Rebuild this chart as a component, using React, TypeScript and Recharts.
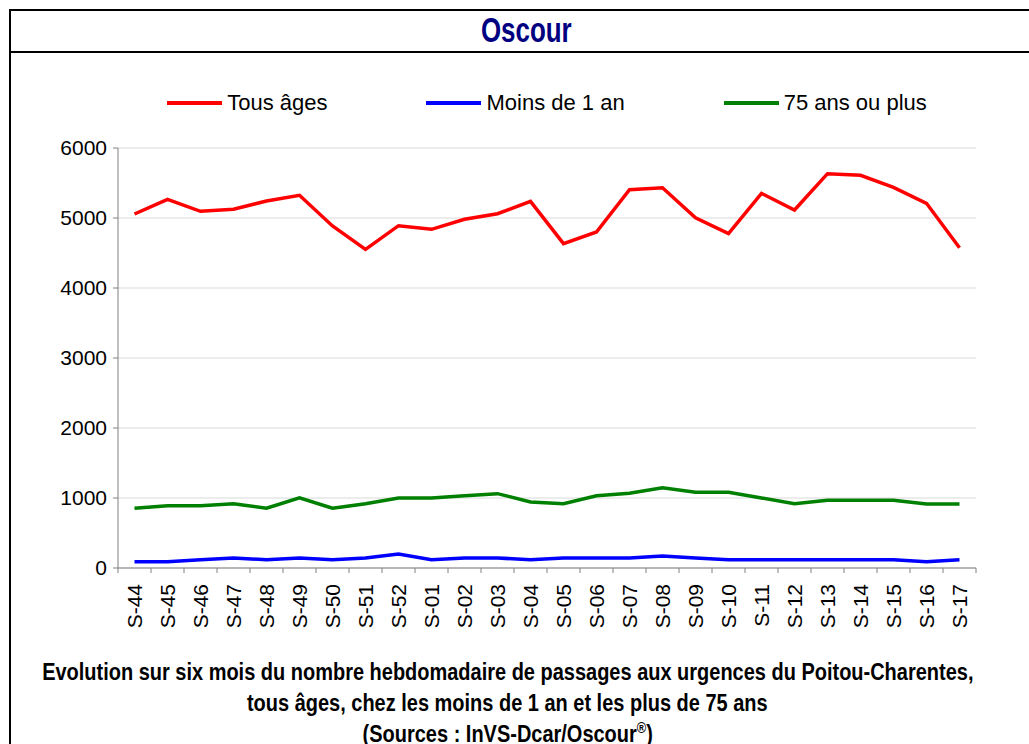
// Oscour : passages hebdomadaires aux urgences, Poitou-Charentes.
import { CartesianGrid, Line, LineChart, XAxis, YAxis } from "recharts";

const weeks = [
  "S-44", "S-45", "S-46", "S-47", "S-48", "S-49", "S-50", "S-51", "S-52",
  "S-01", "S-02", "S-03", "S-04", "S-05", "S-06", "S-07", "S-08", "S-09",
  "S-10", "S-11", "S-12", "S-13", "S-14", "S-15", "S-16", "S-17",
];

const tousAges = [
  5057, 5267, 5096, 5124, 5243, 5324, 4886, 4552, 4890, 4838, 4981, 5061, 5238,
  4633, 4800, 5404, 5433, 5004, 4776, 5352, 5114, 5633, 5610, 5438, 5210, 4576,
];

const moinsUnAn = [
  90, 90, 119, 143, 119, 143, 119, 143, 200, 119, 143, 143, 119,
  143, 143, 143, 171, 143, 119, 119, 119, 119, 119, 119, 90, 119,
];

const plus75 = [
  853, 890, 890, 919, 853, 1004, 853, 919, 1000, 1000, 1033, 1062, 943,
  919, 1033, 1067, 1147, 1081, 1081, 1000, 919, 967, 967, 967, 914, 914,
];

const yTicks = [0, 1000, 2000, 3000, 4000, 5000, 6000];

const series = [
  { key: "tous", name: "Tous âges", color: "#ff0000" },
  { key: "moins1", name: "Moins de 1 an", color: "#0000ff" },
  { key: "plus75", name: "75 ans ou plus", color: "#008000" },
];

const data = weeks.map((week, i) => ({
  week,
  tous: tousAges[i],
  moins1: moinsUnAn[i],
  plus75: plus75[i],
}));

const CHART_W = 1029;
const CHART_H = 660;
const MARGIN = { top: 148, right: 53, bottom: 32, left: 58 };
const Y_AXIS_W = 60;
const PLOT_W = CHART_W - MARGIN.left - MARGIN.right - Y_AXIS_W;
const halfBand = PLOT_W / weeks.length / 2;

const axisColor = "#808080";
const sans = "'Liberation Sans', Arial, sans-serif";

function WeekTick(props: any) {
  const { x, y, payload, index } = props;
  return (
    <g>
      <line x1={x - halfBand} x2={x - halfBand} y1={y} y2={y + 5} stroke={axisColor} />
      {index === weeks.length - 1 && (
        <line x1={x + halfBand} x2={x + halfBand} y1={y} y2={y + 5} stroke={axisColor} />
      )}
      <text
        x={x}
        y={y + 16}
        transform={`rotate(-90 ${x} ${y + 16})`}
        textAnchor="end"
        dy="0.35em"
        fontSize={21}
        fontFamily={sans}
        fill="#000"
      >
        {payload.value}
      </text>
    </g>
  );
}

// texte « condensé » : Liberation Sans Bold resserré horizontalement
function Condensed({ children, scale }: { children: any; scale: number }) {
  return (
    <div style={{ display: "flex", justifyContent: "center", whiteSpace: "nowrap" }}>
      <span style={{ display: "inline-block", flexShrink: 0, transform: `scaleX(${scale})`, transformOrigin: "center" }}>
        {children}
      </span>
    </div>
  );
}

export default function App() {
  return (
    <div style={{ position: "absolute", left: 0, top: 0, width: 1029, height: 744, overflow: "hidden", background: "#fff" }}>
      <div
        style={{
          position: "absolute",
          left: 9,
          top: 9,
          width: 1060,
          height: 800,
          border: "2px solid #000",
        }}
      />
      <div style={{ position: "absolute", left: 9, top: 51, width: 1060, height: 2, background: "#000" }} />
      <div
        style={{
          position: "absolute",
          left: 0,
          top: 10,
          width: 1053,
          fontFamily: sans,
          fontWeight: "bold",
          fontSize: 35,
          lineHeight: "40px",
          color: "#000080",
        }}
      >
        <Condensed scale={0.74}>Oscour</Condensed>
      </div>

      <div
        style={{
          position: "absolute",
          left: MARGIN.left + Y_AXIS_W,
          top: 88,
          width: PLOT_W,
          height: 30,
          display: "flex",
          justifyContent: "center",
          alignItems: "center",
          gap: 99,
          fontFamily: sans,
          fontSize: 22,
        }}
      >
        {series.map((s) => (
          <div key={s.key} style={{ display: "flex", alignItems: "center" }}>
            <span style={{ display: "inline-block", width: 55, height: 4, background: s.color, marginRight: 5 }} />
            <span>{s.name}</span>
          </div>
        ))}
      </div>

      <div style={{ position: "absolute", left: 0, top: 0 }}>
        <LineChart width={CHART_W} height={CHART_H} data={data} margin={MARGIN}>
          <CartesianGrid vertical={false} stroke="#d9d9d9" />
          <XAxis
            dataKey="week"
            interval={0}
            padding={{ left: halfBand, right: halfBand }}
            tickLine={false}
            tickSize={0}
            tickMargin={0}
            height={60}
            stroke={axisColor}
            tick={<WeekTick />}
          />
          <YAxis
            width={Y_AXIS_W}
            domain={[0, 6000]}
            ticks={yTicks}
            tickSize={5}
            tickMargin={6}
            stroke={axisColor}
            tick={{ fill: "#000", fontSize: 21, fontFamily: sans }}
          />
          {series.map((s) => (
            <Line
              key={s.key}
              type="linear"
              dataKey={s.key}
              name={s.name}
              stroke={s.color}
              strokeWidth={3.5}
              dot={false}
              activeDot={false}
              isAnimationActive={false}
            />
          ))}
        </LineChart>
      </div>

      <div
        style={{
          position: "absolute",
          left: 0,
          top: 657,
          width: 1015,
          fontFamily: sans,
          fontWeight: "bold",
          fontSize: 23.5,
          lineHeight: "31px",
          color: "#000",
        }}
      >
        <Condensed scale={0.85}>
          Evolution sur six mois du nombre hebdomadaire de passages aux urgences du Poitou-Charentes,
        </Condensed>
        <Condensed scale={0.85}>tous âges, chez les moins de 1 an et les plus de 75 ans</Condensed>
        <Condensed scale={0.85}>
          (Sources : InVS-Dcar/Oscour<sup style={{ fontSize: 15, lineHeight: 0 }}>®</sup>)
        </Condensed>
      </div>
    </div>
  );
}
